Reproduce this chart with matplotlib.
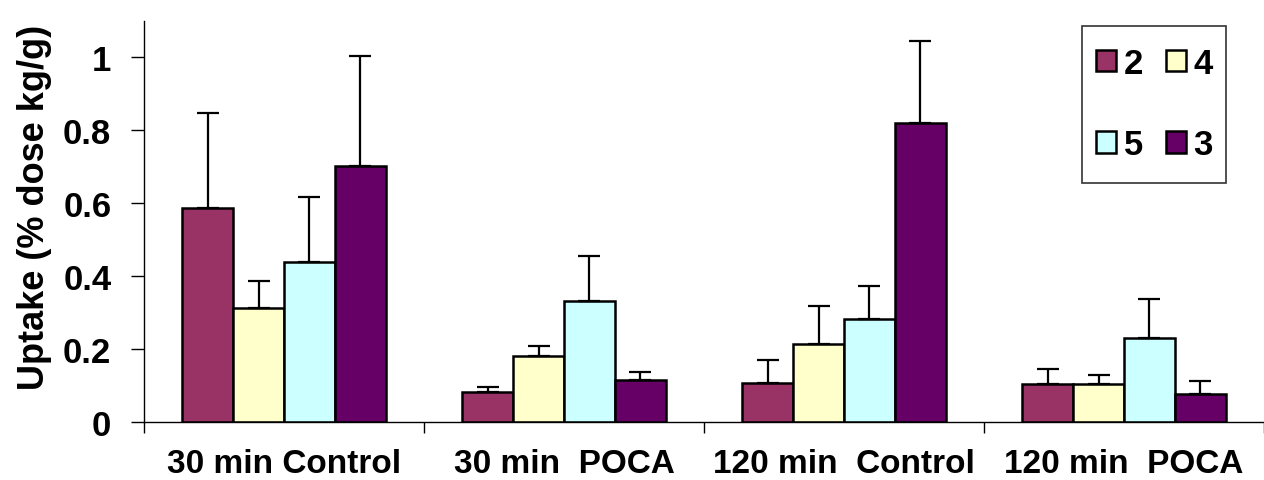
import matplotlib
matplotlib.use("Agg")
import matplotlib.pyplot as plt
import numpy as np
from matplotlib.patches import Patch, Rectangle

categories = ["30 min Control", "30 min  POCA", "120 min  Control", "120 min  POCA"]
series = ["2", "4", "5", "3"]
values = {
    "2": [0.588, 0.082, 0.107, 0.104],
    "4": [0.313, 0.181, 0.214, 0.104],
    "5": [0.440, 0.332, 0.283, 0.231],
    "3": [0.703, 0.115, 0.819, 0.077],
}
errors = {
    "2": [0.261, 0.014, 0.063, 0.042],
    "4": [0.074, 0.028, 0.105, 0.025],
    "5": [0.178, 0.124, 0.091, 0.107],
    "3": [0.302, 0.022, 0.225, 0.036],
}
colors = {"2": "#993366", "4": "#FFFFCC", "5": "#CCFFFF", "3": "#660066"}
yticks = [0, 0.2, 0.4, 0.6, 0.8, 1.0]
yticklabels = ["0", "0.2", "0.4", "0.6", "0.8", "1"]

plt.rcParams['font.family'] = ['Liberation Sans', 'DejaVu Sans']
plt.rcParams['font.weight'] = 'bold'

fig = plt.figure(figsize=(12.64, 4.81), dpi=100)
ax = fig.add_axes([144/1264, 58/481, 1 - 144/1264, 401/481])

x = np.arange(len(categories))
w = 0.182
for i, s in enumerate(series):
    pos = x + (i - 1.5) * w
    ax.bar(pos, values[s], w, color=colors[s], edgecolor='black', linewidth=1.8, zorder=2)
    ax.errorbar(pos, values[s], yerr=[np.zeros(len(categories)), errors[s]], fmt='none',
                ecolor='black', elinewidth=1.6, capsize=8, capthick=1.6, zorder=3)

ax.set_xlim(-0.5, 3.5 - 4/281)
ax.set_ylim(0, 1.1)
ax.set_yticks(yticks)
ax.set_yticklabels(yticklabels, fontsize=25, fontweight='bold')
ax.set_xticks(x)
ax.set_xticklabels(categories, fontsize=24, fontweight='bold')
ax.tick_params(axis='x', which='major', length=0, pad=19)
ax.set_xticks(np.arange(-0.5, 3.6, 1.0), minor=True)
ax.tick_params(axis='x', which='minor', length=8, width=1, direction='out')
ax.tick_params(axis='y', length=9.5, width=1, direction='out', pad=14)
ax.spines['top'].set_visible(False)
ax.spines['right'].set_visible(False)
ax.spines['left'].set_linewidth(1)
ax.spines['bottom'].set_linewidth(1)
fig.text(35/1264, 1 - 207/481, "Uptake (% dose kg/g)", rotation=90, ha='center', va='center',
         fontsize=26, fontweight='bold')

order = ["2", "5", "4", "3"]
handles = [Patch(facecolor=colors[s], edgecolor='black', linewidth=1.8) for s in order]
leg = ax.legend(handles, order, ncol=2, loc='upper left', bbox_to_anchor=(0.83125, 0.9875),
                borderaxespad=0.0, frameon=False,
                handlelength=0.58, handleheight=0.58, handletextpad=0.23, columnspacing=0.64,
                labelspacing=1.4, borderpad=0.6, prop={'weight': 'bold', 'size': 25})
frame = Rectangle(((1082 - 144) / 1120, (423 - 184) / 401), 144 / 1120, 157 / 401,
                  transform=ax.transAxes, facecolor='white', edgecolor='#333333',
                  linewidth=1.2, zorder=4, clip_on=False)
ax.add_patch(frame)
leg.set_zorder(5)

fig.savefig("out.png", dpi=100)
